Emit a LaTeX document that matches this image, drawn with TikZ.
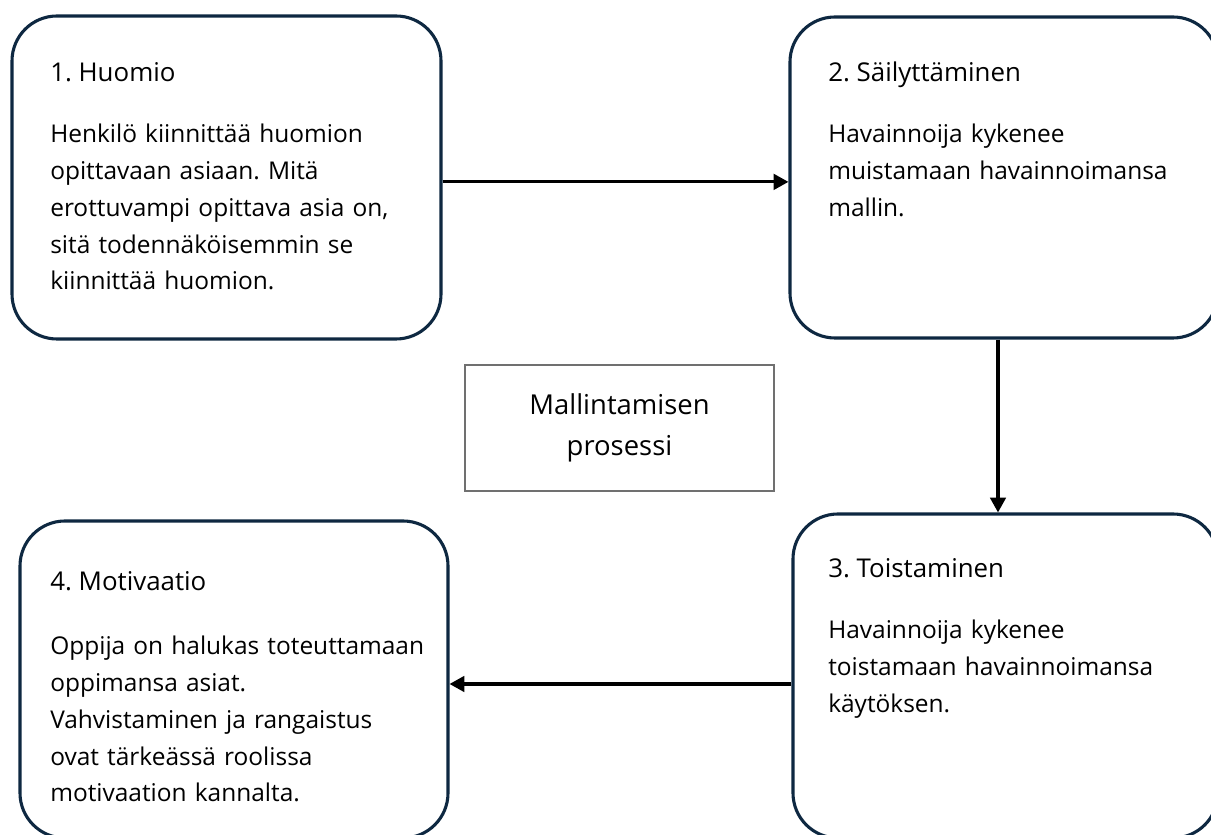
\documentclass[tikz,border=0pt]{standalone}
\usepackage{fontspec}
\setmainfont{Open Sans}
\usetikzlibrary{arrows.meta}
\definecolor{boxline}{HTML}{0E2841}
\definecolor{midline}{HTML}{707070}
\frenchspacing
\begin{document}
\begin{tikzpicture}[
    phase/.style={draw=boxline,line width=2.2pt,rounded corners=1.125cm},
    phasetitle/.style={anchor=base west,inner sep=0pt,font=\fontsize{18.4}{26}\selectfont},
    phasetext/.style={anchor=base west,inner sep=0pt,text width=10cm,align=left,font=\fontsize{17.4}{26.1}\selectfont},
    flow/.style={line width=2.2pt,-{Triangle[length=10.5pt,width=11pt]}}
    ]
    \useasboundingbox (0,0) rectangle (30.275,20.875);
    \clip (0,0) rectangle (30.275,20.875);
    \node[phase,minimum width=10.725cm,minimum height=8.075cm] (huomio) at (5.6625,16.4375) {};
    \node[phase,minimum width=10.7cm,minimum height=8.025cm] (sailytys) at (25.1,16.4375) {};
    \node[phase,minimum width=10.625cm,minimum height=8.1cm] (toisto) at (25.1375,3.975) {};
    \node[phase,minimum width=10.7cm,minimum height=7.925cm] (motivaatio) at (5.85,3.8875) {};
    \node[draw=midline,line width=1pt,minimum width=7.725cm,minimum height=3.15cm,
        align=center,font=\fontsize{19.5}{29.2}\selectfont] (prosessi) at (15.4875,10.175)
        {Mallintamisen\\prosessi};
    \node[phasetitle] (huomiootsikko) at (1.25,18.825) {1. Huomio};
    \node[phasetext] (huomioteksti) at (1.25,17.3) {Henkilö kiinnittää huomion\\opittavaan asiaan. Mitä\\erottuvampi opittava asia on,\\sitä todennäköisemmin se\\kiinnittää huomion.};
    \node[phasetitle] (sailytysotsikko) at (20.7,18.825) {2. Säilyttäminen};
    \node[phasetext] (sailytysteksti) at (20.7,17.3) {Havainnoija kykenee\\muistamaan havainnoimansa\\mallin.};
    \node[phasetitle] (toisto-otsikko) at (20.7,6.425) {3. Toistaminen};
    \node[phasetext] (toistoteksti) at (20.7,4.9) {Havainnoija kykenee\\toistamaan havainnoimansa\\käytöksen.};
    \node[phasetitle] (motivaatio-otsikko) at (1.25,6.1) {4. Motivaatio};
    \node[phasetext] (motivaatioteksti) at (1.25,4.5) {Oppija on halukas toteuttamaan\\oppimansa asiat.\\Vahvistaminen ja rangaistus\\ovat tärkeässä roolissa\\motivaation kannalta.};
    \draw[flow]
    ([yshift=-0.11cm]huomio.east) -- ([yshift=-0.11cm]huomio.east -| sailytys.west)
    ;
    \draw[flow]
    ([xshift=-0.15cm]sailytys.south) -- ([xshift=-0.15cm]sailytys.south |- toisto.north)
    ;
    \draw[flow]
    ([yshift=-0.2cm]toisto.west) -- ([yshift=-0.2cm]toisto.west -| motivaatio.east)
    ;
\end{tikzpicture}
\end{document}
